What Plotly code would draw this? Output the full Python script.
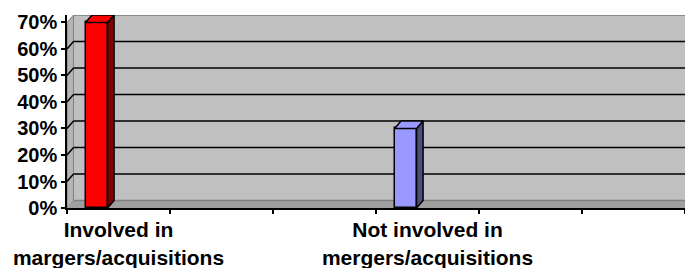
import plotly.graph_objects as go

# ---- data ----
categories = ["Involved in<br>margers/acquisitions", "Not involved in<br>mergers/acquisitions"]
values = [0.70, 0.30]
front_colors = ["#ff0000", "#9999ff"]
side_colors = ["#800000", "#4d4d80"]
y_ticks = [0.0, 0.1, 0.2, 0.3, 0.4, 0.5, 0.6, 0.7]
y_tick_labels = ["0%", "10%", "20%", "30%", "40%", "50%", "60%", "70%"]

# ---- layout params ----
slots = [0, 3]          # category slots on a 6-slot axis
n_slots = 6
offset = 0.18
width = 0.214
DX = 0.063              # 3D depth (x units)
DY = 0.0282             # 3D depth (y units)
ymax = 0.7 + DY
FONT = "Liberation Sans, Arial, sans-serif"

fig = go.Figure()

fig.add_trace(go.Bar(
    x=slots, y=values, offset=offset, width=width,
    marker=dict(color=front_colors, line=dict(color="black", width=1.5)),
    showlegend=False, hoverinfo="skip"))

for s, v, fc, sc in zip(slots, values, front_colors, side_colors):
    xl = s + offset
    xr = xl + width
    fig.add_trace(go.Scatter(
        x=[xr, xr + DX, xr + DX, xr, xr], y=[0, DY, v + DY, v, 0],
        mode="lines", fill="toself", fillcolor=sc,
        line=dict(color="black", width=1.5), showlegend=False, hoverinfo="skip"))
    fig.add_trace(go.Scatter(
        x=[xl, xr, xr + DX, xl + DX, xl], y=[v, v, v + DY, v + DY, v],
        mode="lines", fill="toself", fillcolor=fc,
        line=dict(color="black", width=1.5), showlegend=False, hoverinfo="skip"))

shapes = []
# back wall
shapes.append(dict(type="rect", xref="x", yref="y", x0=DX, x1=n_slots, y0=DY, y1=0.7 + DY,
                   fillcolor="#c0c0c0", line=dict(width=0), layer="below"))
# left wall
shapes.append(dict(type="path", xref="x", yref="y",
                   path=f"M 0,0 L {DX},{DY} L {DX},{0.7 + DY} L 0,0.7 Z",
                   fillcolor="#b4b4b4", line=dict(color="#808080", width=1), layer="below"))
# floor
shapes.append(dict(type="path", xref="x", yref="y",
                   path=f"M 0,0 L {n_slots},0 L {n_slots},{DY} L {DX},{DY} Z",
                   fillcolor="#a0a0a0", line=dict(width=0), layer="below"))
shapes.append(dict(type="line", xref="x", yref="y", x0=DX, x1=n_slots, y0=DY, y1=DY,
                   line=dict(color="#808080", width=1.5), layer="below"))
# top edge of back wall
shapes.append(dict(type="line", xref="x", yref="y", x0=DX, x1=n_slots, y0=0.7 + DY, y1=0.7 + DY,
                   line=dict(color="#8c8c8c", width=2), layer="below"))
# gridlines on back wall and left wall
for t in y_ticks[1:-1]:
    shapes.append(dict(type="line", xref="x", yref="y", x0=DX, x1=n_slots, y0=t + DY, y1=t + DY,
                       line=dict(color="black", width=1.5), layer="below"))
    shapes.append(dict(type="line", xref="x", yref="y", x0=0, x1=DX, y0=t, y1=t + DY,
                       line=dict(color="black", width=1.5), layer="below"))

fig.update_layout(
    width=685, height=268,
    margin=dict(l=67, r=0, t=15, b=60, autoexpand=False),
    paper_bgcolor="white", plot_bgcolor="white",
    shapes=shapes,
    bargap=0,
    font=dict(family=FONT, size=20, color="black"),
)
fig.update_xaxes(
    range=[0, n_slots], tickmode="array",
    tickvals=[s + 0.5 for s in slots], ticktext=categories,
    ticks="", showgrid=False, zeroline=False, automargin=False,
    showline=True, linecolor="black", linewidth=2,
    ticklabelstandoff=2,
    tickfont=dict(family=FONT, size=21, color="black", weight="bold"),
    minor=dict(tickmode="array", tickvals=list(range(n_slots + 1)), ticks="outside",
               ticklen=4, tickcolor="black", tickwidth=1.5, showgrid=False),
    fixedrange=True,
)
fig.update_yaxes(
    range=[0, ymax], tickmode="array", tickvals=y_ticks, ticktext=y_tick_labels,
    ticks="outside", ticklen=4, tickcolor="black", tickwidth=1.5,
    showgrid=False, zeroline=False, automargin=False,
    showline=True, linecolor="black", linewidth=1.5,
    tickfont=dict(family=FONT, size=20, color="black", weight="bold"),
    fixedrange=True,
)

fig.write_html("out.html", config={"displayModeBar": False},
               post_script="document.body.style.margin='0';")
